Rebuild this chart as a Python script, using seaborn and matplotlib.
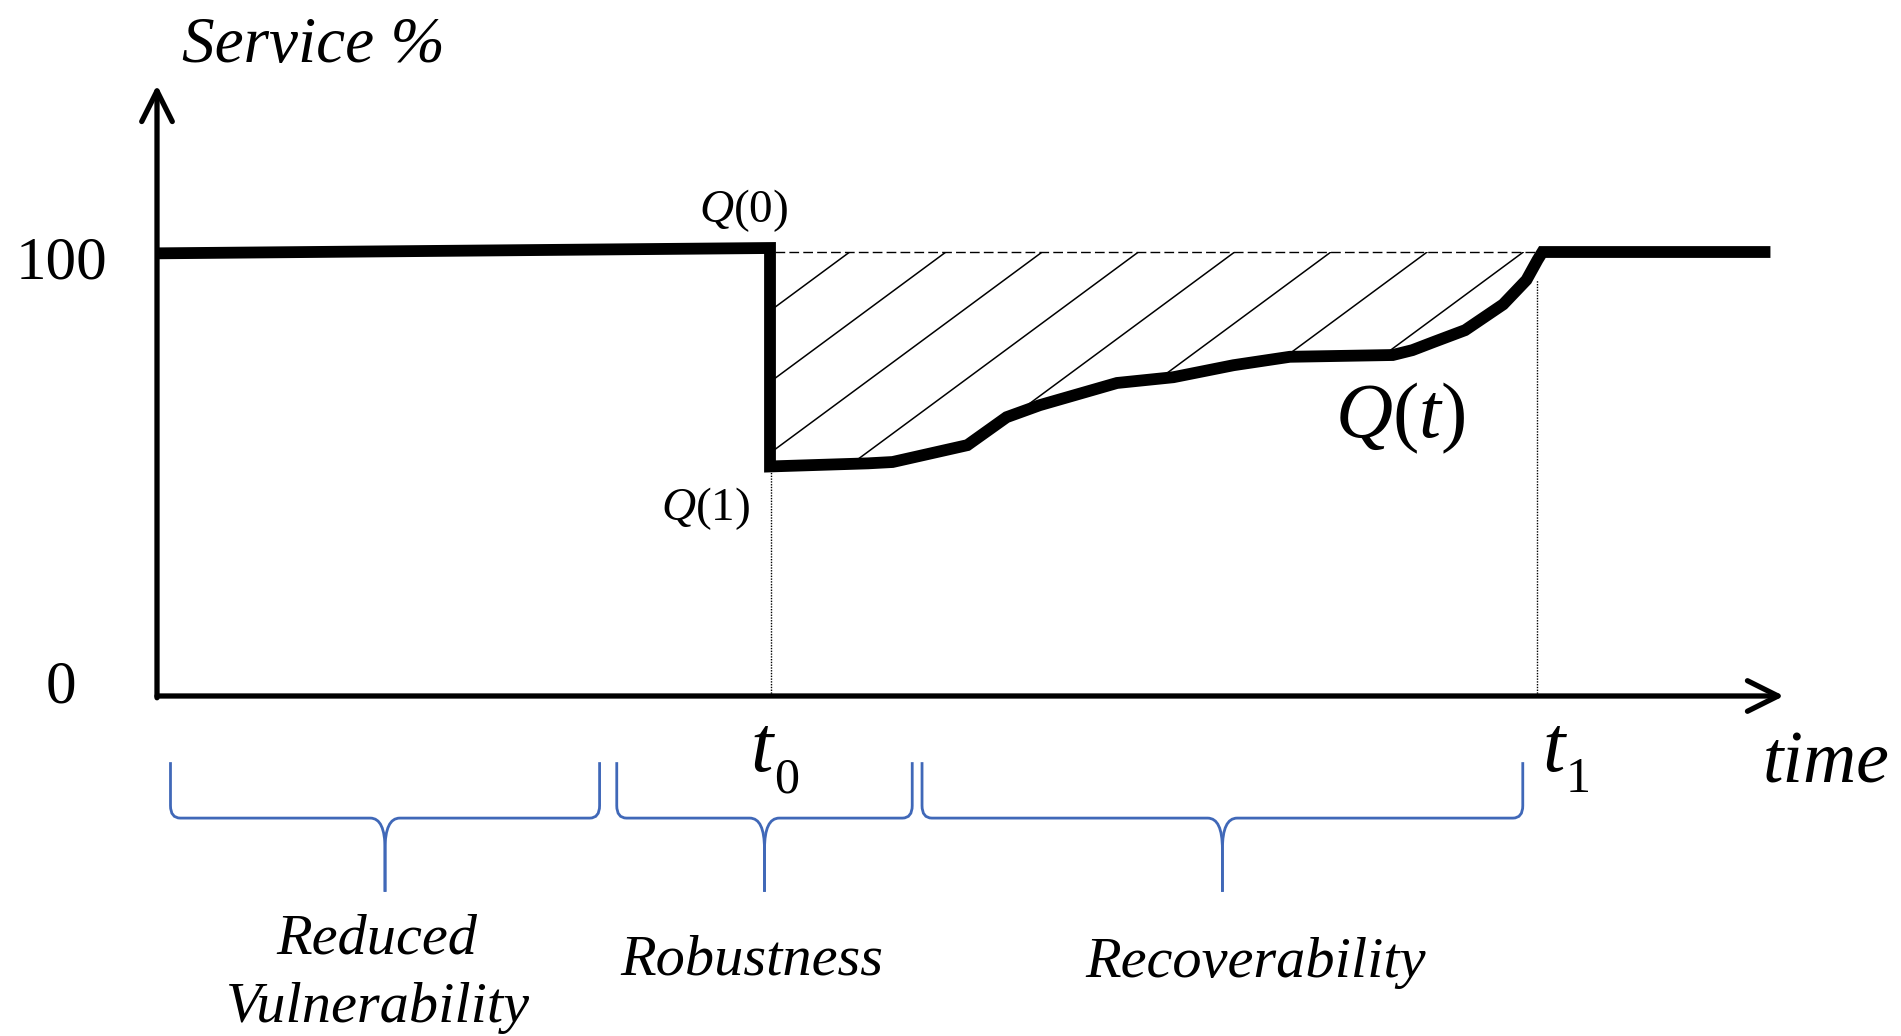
import numpy as np
import pandas as pd
import matplotlib
matplotlib.use("Agg")
import matplotlib.pyplot as plt
import seaborn as sns
from matplotlib.path import Path
from matplotlib.patches import PathPatch

# service curve Q(t) (time in arbitrary units, service in %)
time_pts = [0.0, 5.0, 5.0, 5.8, 6.0, 6.61, 6.93, 7.2, 7.83, 8.29, 8.78,
            9.24, 10.08, 10.24, 10.41, 10.67, 10.98, 11.17, 11.26, 11.3, 13.16]
service_pts = [99.7, 100.9, 51.7, 52.4, 52.7, 56.5, 62.8, 65.5, 70.5, 71.8, 74.5,
               76.4, 76.8, 77.9, 79.7, 82.4, 88.2, 93.7, 98.2, 100.0, 100.0]

t0 = 5.0
t1 = 11.26

# phases shown with braces under the time axis
phase_labels = ["Reduced", "Robustness", "Recoverability"]
phase_start = [0.11, 3.75, 6.24]
phase_end = [3.61, 6.16, 11.14]

BLUE = "#4068b8"
SERIF = "Liberation Serif"

sns.set_style("white")
plt.rcParams["text.color"] = "black"
plt.rcParams["mathtext.fontset"] = "custom"
plt.rcParams["mathtext.rm"] = SERIF
plt.rcParams["mathtext.it"] = SERIF + ":italic"


def draw_brace(ax, a, b, top=-14.9, mid=-27.5, tip=-44.1):
    """curly brace from a to b, pointing down"""
    c = (a + b) / 2
    rx, ry = 0.08, 2.8      # end hooks
    cx, cy = 0.12, 7.0      # central cusp
    for x_end, sgn in [(a, 1), (b, -1)]:
        verts = [(x_end, top), (x_end, mid + ry), (x_end, mid), (x_end + sgn * rx, mid),
                 (c - sgn * cx, mid), (c, mid), (c, mid - cy), (c, tip)]
        codes = [Path.MOVETO, Path.LINETO, Path.CURVE3, Path.CURVE3,
                 Path.LINETO, Path.CURVE3, Path.CURVE3, Path.LINETO]
        ax.add_patch(PathPatch(Path(verts, codes), fill=False, edgecolor=BLUE,
                               lw=2.0, capstyle="butt"))


fig = plt.figure(figsize=(19.01, 10.36), dpi=100)
ax = fig.add_axes([0, 0, 1, 1])
ax.set_xlim(-1.2806, 14.225)
ax.set_ylim(-76.58, 156.76)
ax.axis("off")

df = pd.DataFrame({"time": time_pts, "service": service_pts})

# hatched loss area between 100% and Q(t)
rec = df.iloc[2:-1]
area = ax.fill_between(rec["time"], rec["service"], 100, facecolor="none", edgecolor="none")
clip = area.get_paths()[0]
slope = 20.4
for tk in np.arange(5.65, 11.3, 0.785):
    ln, = ax.plot([tk, tk - 70 / slope], [100, 30], color="black", lw=1.1)
    ln.set_clip_path(clip, ax.transData)

# dashed 100% reference and dotted drop lines
ax.hlines(100, t0 + 0.04, t1, color="black", lw=1.0, linestyle=(0, (7, 3)))
ax.vlines(t0 + 0.01, 0, service_pts[2], color="black", lw=1.0, linestyle=(0, (1, 1)))
ax.vlines(t1, 0, np.interp(t1 - 0.09, rec["time"], rec["service"]), color="black",
          lw=1.0, linestyle=(0, (1, 1)))

# Q(t)
sns.lineplot(data=df, x="time", y="service", sort=False, estimator=None, ax=ax,
             color="black", lw=8.5, solid_joinstyle="miter", solid_capstyle="butt")

# axes drawn as arrows
arrow = dict(arrowstyle="->", lw=3.8, color="black", mutation_scale=55,
             shrinkA=0, shrinkB=0)
ax.annotate("", xy=(13.27, 0), xytext=(0, 0), arrowprops=arrow)
ax.annotate("", xy=(0, 137.6), xytext=(0, -0.4), arrowprops=arrow)

# text
ax.text(0.2, 142.8, "Service %", family=SERIF, style="italic", fontsize=47,
        ha="left", va="baseline")
ax.text(-0.78, 94.1, "100", family=SERIF, fontsize=44, ha="center", va="baseline")
ax.text(-0.78, -1.4, "0", family=SERIF, fontsize=44, ha="center", va="baseline")
ax.text(5.15, 106.8, "$Q(0)$", fontsize=34, ha="right", va="baseline")
ax.text(4.84, 39.6, "$Q(1)$", fontsize=34, ha="right", va="baseline")
ax.text(9.61, 58.3, "$Q(t)$", fontsize=57, ha="left", va="baseline")

for tx, sub in [(4.84, "0"), (11.3, "1")]:
    ax.text(tx, -16.9, "t", family=SERIF, style="italic", fontsize=58,
            ha="left", va="baseline")
    ax.text(tx + 0.19, -21.7, sub, family=SERIF, fontsize=36, ha="left", va="baseline")
ax.text(13.1, -19.4, "time", family=SERIF, style="italic", fontsize=53,
        ha="left", va="baseline")

for a, b in zip(phase_start, phase_end):
    draw_brace(ax, a, b)

label_x = [1.79, 4.85, 8.96]
label_y = [-58.1, -62.8, -63.3]
for x, y, lab in zip(label_x, label_y, phase_labels):
    ax.text(x, y, lab, family=SERIF, style="italic", fontsize=42,
            ha="center", va="baseline")
ax.text(1.8, -73.4, "Vulnerability", family=SERIF, style="italic", fontsize=42,
        ha="center", va="baseline")

fig.savefig("out.png", dpi=100)
